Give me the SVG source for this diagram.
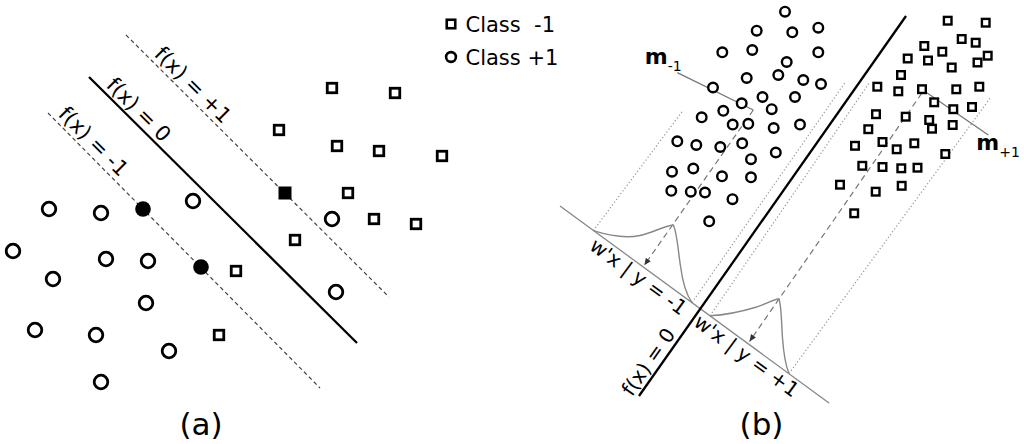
<svg xmlns="http://www.w3.org/2000/svg" xmlns:xlink="http://www.w3.org/1999/xlink" width="1024" height="444" viewBox="0 0 1024 444">
<style>
text { font-family: "DejaVu Sans", Verdana, sans-serif; fill: #000; }
.pa { fill: #fff; stroke: #000; stroke-width: 2.8; }
.pb { fill: #fff; stroke: #000; stroke-width: 2.4; }
.lg { fill: #fff; stroke: #000; stroke-width: 2.6; }
.solid { stroke: #000; stroke-width: 2.3; fill: none; }
.dashA { stroke: #444; stroke-width: 1.2; stroke-dasharray: 4 3; fill: none; }
.dashB { stroke: #777; stroke-width: 1.2; stroke-dasharray: 6 4; fill: none; }
.dot { stroke: #999; stroke-width: 1.2; stroke-dasharray: 1.3 2.2; fill: none; }
.axis { stroke: #888; stroke-width: 1.3; fill: none; }
.gauss { stroke: #888; stroke-width: 1.4; fill: none; }
.mline { stroke: #777; stroke-width: 1.3; fill: none; }
.lab { font-size: 21px; }
.labb { font-size: 20px; }
.panel { font-size: 31px; text-anchor: middle; }
</style>
<defs>
  <circle id="ca" r="6.8" class="pa"/>
  <rect id="sa" x="-4.75" y="-4.75" width="9.5" height="9.5" class="pa"/>
  <circle id="cb" r="4.8" class="pb"/>
  <rect id="sb" x="-3.8" y="-3.8" width="7.6" height="7.6" class="pb"/>
  <marker id="arr" markerUnits="userSpaceOnUse" markerWidth="8" markerHeight="8" refX="7" refY="3" orient="auto">
    <path d="M0,0 L7,3 L0,6 z" fill="#333"/>
  </marker>
</defs>
<rect width="1024" height="444" fill="#fff"/>

<!-- Legend -->
<g id="legend">
  <rect x="446.75" y="19.75" width="8.5" height="8.5" class="lg"/>
  <circle cx="451" cy="57" r="4.9" class="lg"/>
  <text x="465.5" y="32" class="lab" xml:space="preserve">Class  -1</text>
  <text x="465.5" y="64.5" class="lab">Class +1</text>
</g>

<!-- Panel (a) -->
<g id="panel-a">
  <g id="a-connectors">
    <path class="dashA" d="M126,35 L389,297"/>
    <path class="solid" d="M89,77 L357,343"/>
    <path class="dashA" d="M48,113 L320,388"/>
  </g>
  <g id="a-labels">
    <text class="lab" text-anchor="middle" transform="translate(188,90) rotate(45)">f(x) = +1</text>
    <text class="lab" text-anchor="middle" transform="translate(133.7,114.7) rotate(45)">f(x) = 0</text>
    <text class="lab" text-anchor="middle" transform="translate(88.5,146.5) rotate(45)">f(x) = -1</text>
  </g>
  <g id="a-class-plus">
    <use href="#ca" x="49" y="209"/>
    <use href="#ca" x="101" y="213"/>
    <use href="#ca" x="193" y="201"/>
    <use href="#ca" x="332" y="219"/>
    <use href="#ca" x="13" y="251"/>
    <use href="#ca" x="106" y="259"/>
    <use href="#ca" x="148" y="261"/>
    <use href="#ca" x="53" y="279"/>
    <use href="#ca" x="146" y="303"/>
    <use href="#ca" x="336" y="292"/>
    <use href="#ca" x="35" y="330"/>
    <use href="#ca" x="96" y="335"/>
    <use href="#ca" x="169" y="351"/>
    <use href="#ca" x="101" y="382"/>
    <circle cx="143" cy="209" r="7.8" fill="#000"/>
    <circle cx="201" cy="267" r="7.8" fill="#000"/>
  </g>
  <g id="a-class-minus">
    <use href="#sa" x="332" y="88"/>
    <use href="#sa" x="395" y="93"/>
    <use href="#sa" x="279" y="130"/>
    <use href="#sa" x="337" y="146"/>
    <use href="#sa" x="379" y="151"/>
    <use href="#sa" x="442" y="156"/>
    <use href="#sa" x="348" y="193"/>
    <use href="#sa" x="374" y="219"/>
    <use href="#sa" x="416" y="224"/>
    <use href="#sa" x="295" y="240"/>
    <use href="#sa" x="236" y="271"/>
    <use href="#sa" x="219" y="335"/>
    <rect x="278.5" y="186.5" width="13" height="13" fill="#000"/>
  </g>
  <text id="label-a" class="panel" x="201" y="435">(a)</text>
</g>

<!-- Panel (b) -->
<g id="panel-b">
  <g id="b-connectors">
    <path class="dot" d="M593.3,230.7 L683.3,110"/>
    <path class="dot" d="M692,302.6 L845,82.7"/>
    <path class="dot" d="M710,315.8 L869.3,82.7"/>
    <path class="dot" d="M789,373.6 L990,98.3"/>
    <path class="axis" d="M560,206 L829,403"/>
    <path class="solid" d="M906,16 L639,396"/>
    <path class="dashB" d="M753.3,110 L644.3,265.2" marker-end="url(#arr)"/>
    <path class="dashB" d="M921.7,93.3 L749.5,341.5" marker-end="url(#arr)"/>
    <path class="gauss" d="M593.3,230.7 C610,236 625,238.5 640,235.5 C652,233 664,226 673.3,225 C677,232 678,250 680.5,266 C682.5,282 686,294 692,302.6"/>
    <path class="gauss" d="M710,315.8 C725,315 740,312 755,307.5 C766,304 773,299.5 779,299 C781.5,306 781.5,325 782.5,338 C783.5,352 785.5,365 789,373.6"/>
    <path class="mline" d="M677.3,72.7 L753.3,110"/>
    <path class="mline" d="M921.7,89.3 L988.3,135"/>
  </g>
  <g id="b-labels">
    <text class="labb" text-anchor="middle" transform="translate(634.3,282.3) rotate(36.2)">w'x | y = -1</text>
    <text class="labb" text-anchor="middle" transform="translate(742.4,361.4) rotate(36.2)">w'x | y = +1</text>
    <text class="labb" text-anchor="middle" transform="translate(654.1,365.8) rotate(-54.9)">f(x) = 0</text>
    <text x="644.7" y="63.5" font-size="22" font-weight="bold">m<tspan font-size="14" font-weight="normal" y="70.5">-1</tspan></text>
    <text x="976.3" y="150" font-size="22" font-weight="bold">m<tspan font-size="14" font-weight="normal" y="156.5">+1</tspan></text>
  </g>
  <g id="b-class-plus">
    <use href="#cb" x="785" y="11.7"/>
    <use href="#cb" x="756.7" y="30.7"/>
    <use href="#cb" x="792.3" y="32.3"/>
    <use href="#cb" x="818.3" y="27.7"/>
    <use href="#cb" x="722.3" y="52.3"/>
    <use href="#cb" x="752.3" y="50"/>
    <use href="#cb" x="818.3" y="52.3"/>
    <use href="#cb" x="786.7" y="62"/>
    <use href="#cb" x="746.7" y="78"/>
    <use href="#cb" x="778.3" y="75"/>
    <use href="#cb" x="803.3" y="80"/>
    <use href="#cb" x="821" y="84"/>
    <use href="#cb" x="713" y="87.5"/>
    <use href="#cb" x="741.7" y="103.3"/>
    <use href="#cb" x="762.5" y="97"/>
    <use href="#cb" x="795" y="97"/>
    <use href="#cb" x="771.7" y="109.2"/>
    <use href="#cb" x="701.7" y="117.3"/>
    <use href="#cb" x="723.3" y="110.8"/>
    <use href="#cb" x="732.7" y="124.6"/>
    <use href="#cb" x="748.3" y="123.8"/>
    <use href="#cb" x="773.7" y="128"/>
    <use href="#cb" x="800" y="124.6"/>
    <use href="#cb" x="677.3" y="141.3"/>
    <use href="#cb" x="696.3" y="145"/>
    <use href="#cb" x="720.3" y="147"/>
    <use href="#cb" x="742.2" y="143.3"/>
    <use href="#cb" x="775.8" y="152.5"/>
    <use href="#cb" x="751" y="159.2"/>
    <use href="#cb" x="672" y="171.7"/>
    <use href="#cb" x="693.3" y="168.5"/>
    <use href="#cb" x="722" y="176.3"/>
    <use href="#cb" x="751" y="177.3"/>
    <use href="#cb" x="671.3" y="190.8"/>
    <use href="#cb" x="690.8" y="191.7"/>
    <use href="#cb" x="705" y="192.5"/>
    <use href="#cb" x="732.5" y="199.2"/>
    <use href="#cb" x="709.2" y="221.3"/>
  </g>
  <g id="b-class-minus">
    <use href="#sb" x="947.7" y="20.7"/>
    <use href="#sb" x="985.7" y="22.7"/>
    <use href="#sb" x="961.7" y="39"/>
    <use href="#sb" x="975.7" y="42.7"/>
    <use href="#sb" x="924.3" y="46"/>
    <use href="#sb" x="942.3" y="51.7"/>
    <use href="#sb" x="987.7" y="55.7"/>
    <use href="#sb" x="977.5" y="62.5"/>
    <use href="#sb" x="907.7" y="58.5"/>
    <use href="#sb" x="928" y="60.5"/>
    <use href="#sb" x="951.7" y="67.5"/>
    <use href="#sb" x="901" y="75"/>
    <use href="#sb" x="877.3" y="86.7"/>
    <use href="#sb" x="898.3" y="91.3"/>
    <use href="#sb" x="922" y="89.2"/>
    <use href="#sb" x="956.3" y="89.3"/>
    <use href="#sb" x="979.3" y="86.7"/>
    <use href="#sb" x="934.2" y="102.3"/>
    <use href="#sb" x="953.3" y="109.2"/>
    <use href="#sb" x="972" y="107"/>
    <use href="#sb" x="876" y="114.2"/>
    <use href="#sb" x="905.7" y="116.7"/>
    <use href="#sb" x="929.2" y="120"/>
    <use href="#sb" x="932" y="128.7"/>
    <use href="#sb" x="952.7" y="125"/>
    <use href="#sb" x="868.3" y="129.2"/>
    <use href="#sb" x="855" y="145.8"/>
    <use href="#sb" x="882.5" y="142"/>
    <use href="#sb" x="896.7" y="149.3"/>
    <use href="#sb" x="914.3" y="143.3"/>
    <use href="#sb" x="945.3" y="154"/>
    <use href="#sb" x="862.3" y="165.8"/>
    <use href="#sb" x="882.5" y="167"/>
    <use href="#sb" x="901.3" y="168.3"/>
    <use href="#sb" x="917.5" y="167.7"/>
    <use href="#sb" x="840" y="184.7"/>
    <use href="#sb" x="875.7" y="191.7"/>
    <use href="#sb" x="901.7" y="185.8"/>
    <use href="#sb" x="854.2" y="213.3"/>
  </g>
  <text id="label-b" class="panel" x="761.5" y="435">(b)</text>
</g>
</svg>
